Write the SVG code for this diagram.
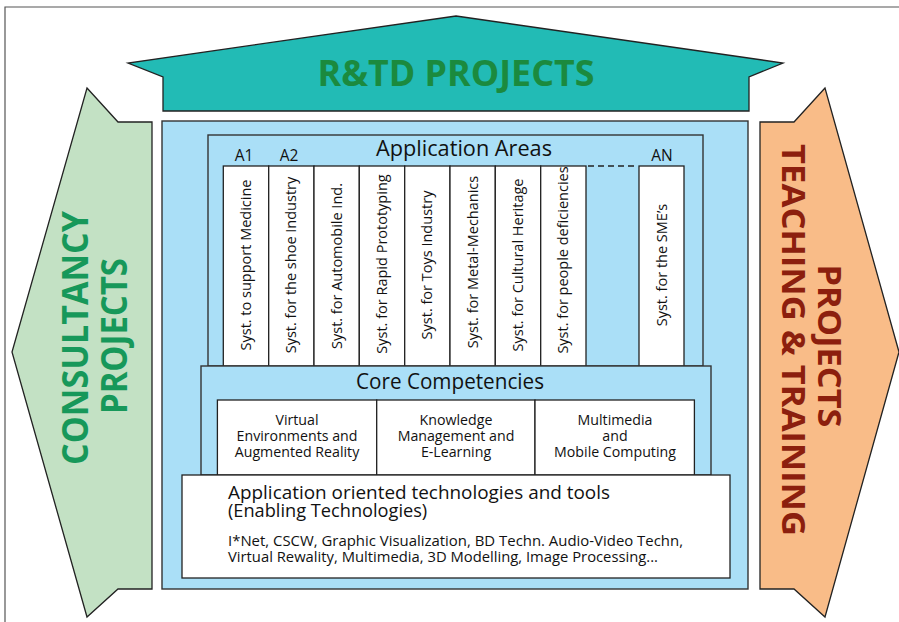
<svg xmlns="http://www.w3.org/2000/svg" width="899" height="622" viewBox="0 0 899 622">
<style>
  .ln{stroke:#222;stroke-width:1.3;stroke-linejoin:miter}
  .wb{fill:#ffffff;stroke:#222;stroke-width:1.3}
  .bl{fill:#aadff7;stroke:#333;stroke-width:1.4}
  .t{font-family:"Open Sans","Liberation Sans",sans-serif;fill:#111}
  .big{font-family:"Open Sans","Liberation Sans",sans-serif;font-weight:bold}
  .col{font-size:14.5px;text-anchor:middle}
  .cc{font-size:14.2px;text-anchor:middle}
  .hd{font-size:21px;text-anchor:middle}
  .lab{font-size:15.5px;text-anchor:middle}
</style>
<rect x="0" y="0" width="899" height="622" fill="#ffffff"/>
<path d="M5,622 V7 H899" fill="none" stroke="#555" stroke-width="1.2"/>

<g id="rtd-projects">
  <polygon class="ln" fill="#22bbb5" points="456,16 783,63 749,77 749,111 163,111 163,77 128,63"/>
  <text class="big" x="456" y="86" font-size="36" fill="#1b8a3e" text-anchor="middle" textLength="277" lengthAdjust="spacingAndGlyphs">R&amp;TD PROJECTS</text>
</g>

<g id="consultancy-projects">
  <polygon class="ln" fill="#c3e1c4" points="87,88 118,122 152,122 152,589 118,589 87,617 12,352"/>
  <text class="big" transform="translate(88,338) rotate(-90)" font-size="35" fill="#17985a" text-anchor="middle" textLength="254" lengthAdjust="spacingAndGlyphs">CONSULTANCY</text>
  <text class="big" transform="translate(127,336) rotate(-90)" font-size="35" fill="#17985a" text-anchor="middle" textLength="156" lengthAdjust="spacingAndGlyphs">PROJECTS</text>
</g>

<g id="teaching-training-projects">
  <polygon class="ln" fill="#f9bc88" points="825,88 794,122 760,122 760,589 794,589 825,617 899,352"/>
  <text class="big" transform="translate(818,346) rotate(90)" font-size="33" fill="#8c1f0e" text-anchor="middle" textLength="163" lengthAdjust="spacingAndGlyphs">PROJECTS</text>
  <text class="big" transform="translate(782,340) rotate(90)" font-size="33" fill="#8c1f0e" text-anchor="middle" textLength="392" lengthAdjust="spacingAndGlyphs">TEACHING &amp; TRAINING</text>
</g>

<g id="main-box">
  <rect class="bl" x="162" y="121" width="586" height="468"/>
</g>

<g id="application-areas">
  <rect class="bl" x="208" y="135" width="495" height="231"/>
  <text class="t hd" x="464" y="156" textLength="176" lengthAdjust="spacingAndGlyphs">Application Areas</text>
  <text class="t lab" x="244" y="161">A1</text>
  <text class="t lab" x="289" y="161">A2</text>
  <text class="t lab" x="662" y="161">AN</text>
  <line x1="588" y1="166" x2="638" y2="166" stroke="#222" stroke-width="1.3" stroke-dasharray="6,4"/>
</g>

<g id="area-1"><rect class="wb" x="223.3" y="166" width="45.4" height="200"/><text class="t col" transform="translate(251,265) rotate(-90)">Syst. to support Medicine</text></g>
<g id="area-2"><rect class="wb" x="268.7" y="166" width="45.3" height="200"/><text class="t col" transform="translate(296.3,265) rotate(-90)">Syst. for the shoe Industry</text></g>
<g id="area-3"><rect class="wb" x="314" y="166" width="45.3" height="200"/><text class="t col" transform="translate(341.7,266) rotate(-90)">Syst. for Automobile Ind.</text></g>
<g id="area-4"><rect class="wb" x="359.3" y="166" width="45.4" height="200"/><text class="t col" transform="translate(387,264) rotate(-90)">Syst. for Rapid Prototyping</text></g>
<g id="area-5"><rect class="wb" x="404.7" y="166" width="45.3" height="200"/><text class="t col" transform="translate(432.3,265) rotate(-90)">Syst. for Toys Industry</text></g>
<g id="area-6"><rect class="wb" x="450" y="166" width="45.3" height="200"/><text class="t col" transform="translate(477.7,262) rotate(-90)">Syst. for Metal-Mechanics</text></g>
<g id="area-7"><rect class="wb" x="495.3" y="166" width="45.4" height="200"/><text class="t col" transform="translate(523,265) rotate(-90)">Syst. for Cultural Heritage</text></g>
<g id="area-8"><rect class="wb" x="540.7" y="166" width="45.3" height="200"/><text class="t col" transform="translate(568.3,260) rotate(-90)">Syst. for people deficiencies</text></g>
<g id="area-n"><rect class="wb" x="639" y="166" width="45" height="200"/><text class="t col" transform="translate(666.5,265) rotate(-90)">Syst. for the SME’s</text></g>

<g id="core-competencies">
  <rect class="bl" x="201" y="366" width="510" height="109"/>
  <text class="t hd" x="450" y="389" textLength="188" lengthAdjust="spacingAndGlyphs">Core Competencies</text>
</g>
<g id="cc-virtual">
  <rect class="wb" x="217.4" y="400" width="159.3" height="75"/>
  <text class="t cc" x="297" y="425">Virtual</text>
  <text class="t cc" x="297" y="441">Environments and</text>
  <text class="t cc" x="297" y="457">Augmented Reality</text>
</g>
<g id="cc-knowledge">
  <rect class="wb" x="376.7" y="400" width="158.3" height="75"/>
  <text class="t cc" x="456" y="425">Knowledge</text>
  <text class="t cc" x="456" y="441">Management and</text>
  <text class="t cc" x="456" y="457">E-Learning</text>
</g>
<g id="cc-multimedia">
  <rect class="wb" x="535" y="400" width="159.4" height="75"/>
  <text class="t cc" x="615" y="425">Multimedia</text>
  <text class="t cc" x="615" y="441">and</text>
  <text class="t cc" x="615" y="457">Mobile Computing</text>
</g>

<g id="enabling-technologies">
  <rect class="wb" x="182" y="475" width="548" height="103"/>
  <text class="t" x="228" y="499" font-size="18.2" textLength="382" lengthAdjust="spacingAndGlyphs">Application oriented technologies and tools</text>
  <text class="t" x="228" y="517" font-size="18.2">(Enabling Technologies)</text>
  <text class="t" x="228" y="546" font-size="14.2" textLength="455" lengthAdjust="spacingAndGlyphs">I*Net, CSCW, Graphic Visualization, BD Techn. Audio-Video Techn,</text>
  <text class="t" x="228" y="562" font-size="14.2" textLength="430" lengthAdjust="spacingAndGlyphs">Virtual Rewality, Multimedia, 3D Modelling, Image Processing...</text>
</g>

<g id="connectors"></g>
</svg>
